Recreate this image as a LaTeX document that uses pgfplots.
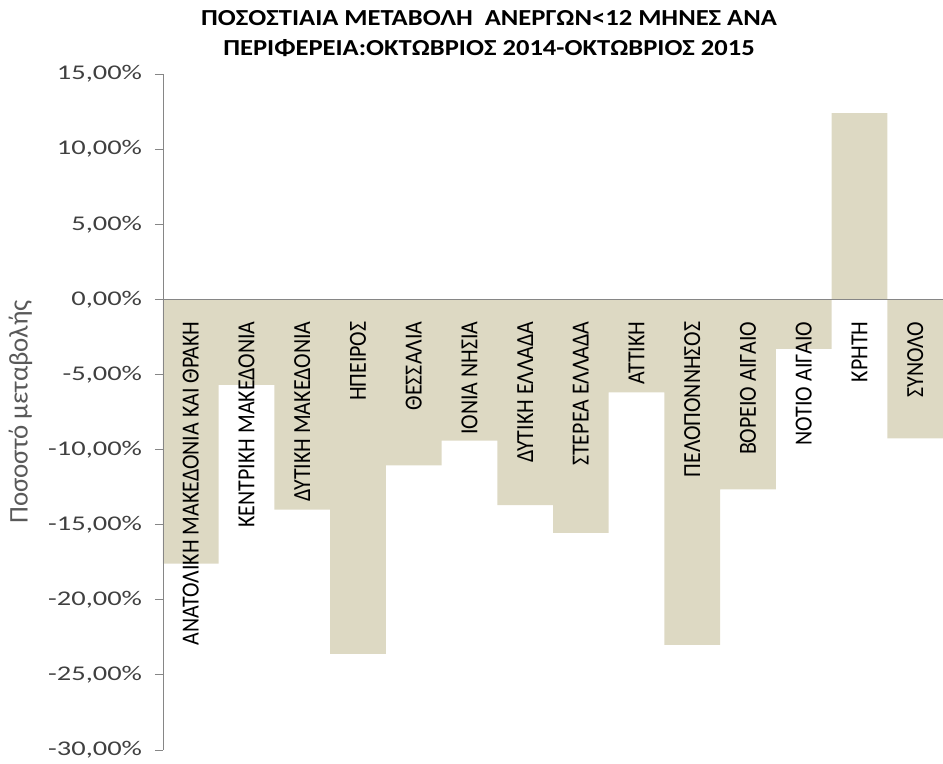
\documentclass[border=0pt]{standalone}
\usepackage{fontspec}
\setmainfont{Carlito}
\usepackage{pgfplots}
\pgfplotsset{compat=1.18}
\definecolor{barfill}{HTML}{DDD9C3}
\definecolor{axisgray}{HTML}{868686}
\definecolor{ticktext}{HTML}{404040}
\definecolor{labgray}{HTML}{595959}

\begin{document}
\begin{tikzpicture}
\begin{axis}[
  scale only axis,
  width=780bp,
  height=676bp,
  xmin=0.5, xmax=14.5,
  ymin=-30, ymax=15,
  axis x line=middle,
  axis y line=left,
  axis on top,
  axis line style={-, draw=axisgray, line width=0.9bp},
  xtick=\empty,
  ytick={-30,-25,...,15},
  yticklabels={-30{,}00\%,-25{,}00\%,-20{,}00\%,-15{,}00\%,-10{,}00\%,-5{,}00\%,0{,}00\%,5{,}00\%,10{,}00\%,15{,}00\%},
  tick align=outside,
  major tick length=8bp,
  tick style={draw=axisgray, line width=0.9bp},
  yticklabel style={font=\fontsize{21}{24}\selectfont, text=ticktext, xscale=1.36, anchor=east, xshift=-6bp},
  ylabel={Ποσοστό μεταβολής},
  ylabel style={font=\fontsize{27}{32}\selectfont, text=labgray, at={(rel axis cs:-0.163,0.5)}, anchor=south},
  title={ΠΟΣΟΣΤΙΑΙΑ ΜΕΤΑΒΟΛΗ\ \ ΑΝΕΡΓΩΝ<12 ΜΗΝΕΣ ΑΝΑ\\ΠΕΡΙΦΕΡΕΙΑ:ΟΚΤΩΒΡΙΟΣ 2014-ΟΚΤΩΒΡΙΟΣ 2015},
  title style={font=\bfseries\fontsize{23}{30}\selectfont, align=center, xscale=1.16, at={(0.418,1)}, anchor=south, yshift=8bp},
]
\addplot[ybar, bar width=1, fill=barfill, draw=none] coordinates {
  (1,-17.6) (2,-5.7) (3,-14.0) (4,-23.6) (5,-11.05) (6,-9.4) (7,-13.7)
  (8,-15.55) (9,-6.2) (10,-23.0) (11,-12.65) (12,-3.3) (13,12.4) (14,-9.25)
};
\addplot[draw=none, mark=none, nodes near coords, point meta=explicit symbolic,
  nodes near coords style={font=\fontsize{22}{24}\selectfont, text=black, inner sep=0pt,
    yshift=-22bp, xscale=1.12, rotate=90, anchor=east}]
coordinates {
  (1,0) [ΑΝΑΤΟΛΙΚΗ ΜΑΚΕΔΟΝΙΑ ΚΑΙ ΘΡΑΚΗ]
  (2,0) [ΚΕΝΤΡΙΚΗ ΜΑΚΕΔΟΝΙΑ]
  (3,0) [ΔΥΤΙΚΗ ΜΑΚΕΔΟΝΙΑ]
  (4,0) [ΗΠΕΙΡΟΣ]
  (5,0) [ΘΕΣΣΑΛΙΑ]
  (6,0) [ΙΟΝΙΑ ΝΗΣΙΑ]
  (7,0) [ΔΥΤΙΚΗ ΕΛΛΑΔΑ]
  (8,0) [ΣΤΕΡΕΑ ΕΛΛΑΔΑ]
  (9,0) [ΑΤΤΙΚΗ]
  (10,0) [ΠΕΛΟΠΟΝΝΗΣΟΣ]
  (11,0) [ΒΟΡΕΙΟ ΑΙΓΑΙΟ]
  (12,0) [ΝΟΤΙΟ ΑΙΓΑΙΟ]
  (13,0) [ΚΡΗΤΗ]
  (14,0) [ΣΥΝΟΛΟ]
};
\coordinate (sw) at (rel axis cs:0,0);
\coordinate (ne) at (rel axis cs:1,1);
\end{axis}
\pgfresetboundingbox
\path ([xshift=-163bp,yshift=-14bp]sw) rectangle ([yshift=74bp]ne);
\end{tikzpicture}
\end{document}
